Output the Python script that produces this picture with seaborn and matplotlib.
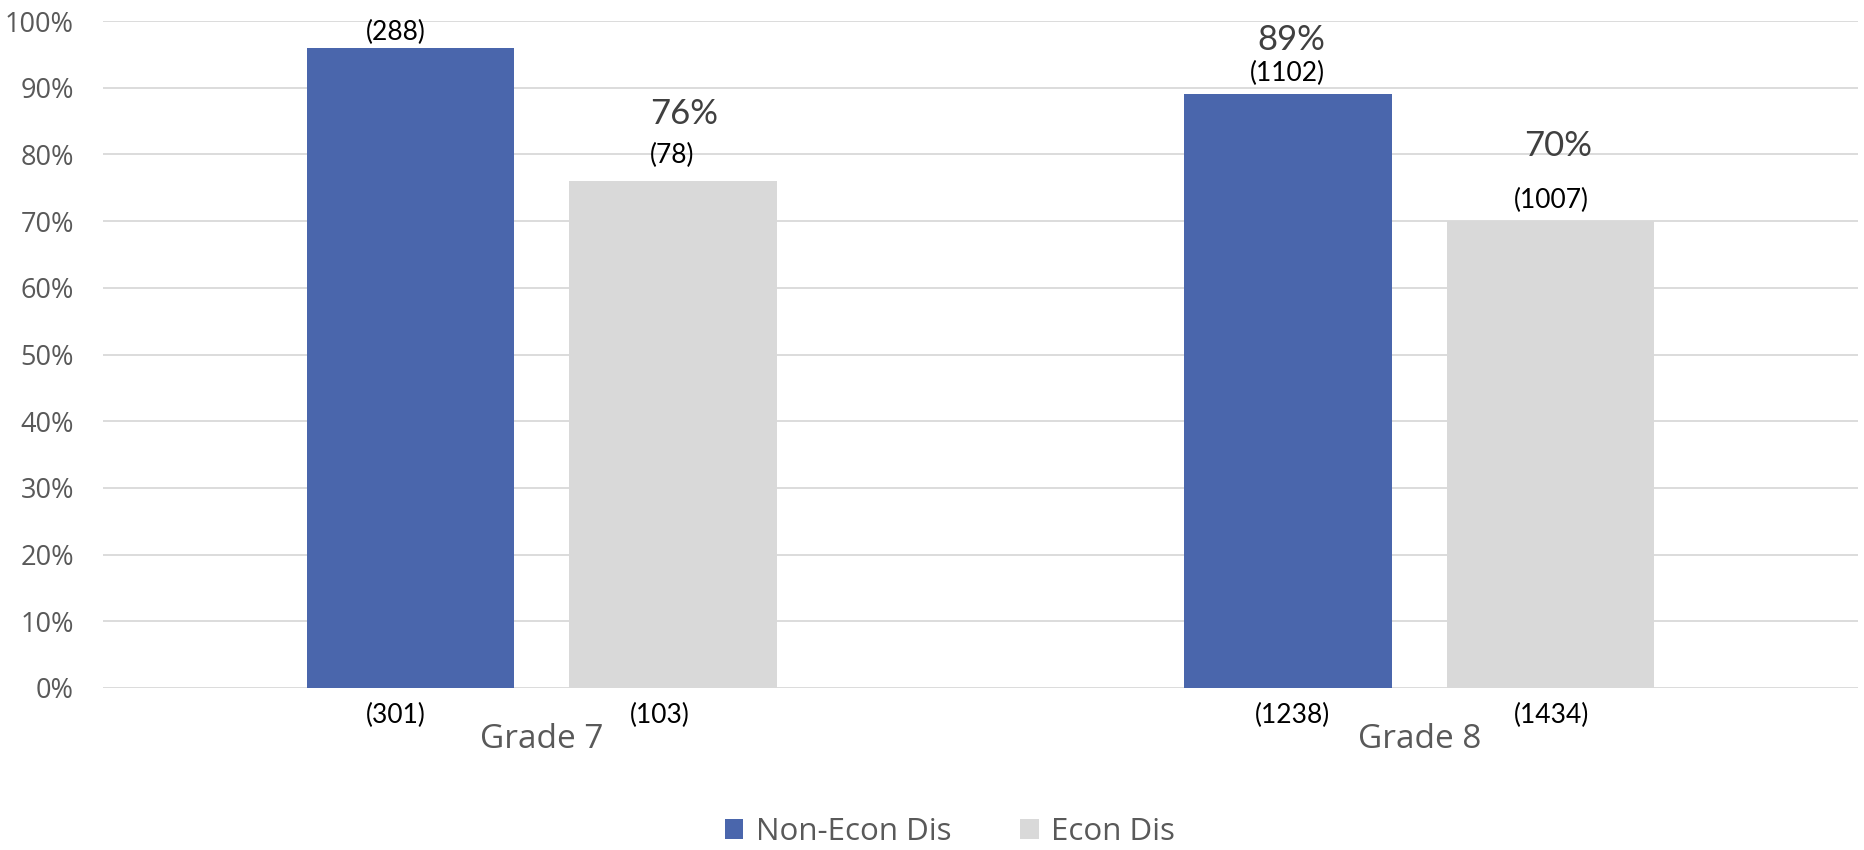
#!/usr/bin/env python3
"""
Grade 7 / Grade 8 bar chart: Non-Econ Dis vs Econ Dis, with counts shown above and below each bar.
"""

import numpy as np
import pandas as pd
import matplotlib
matplotlib.use("Agg")
import matplotlib.pyplot as plt
from matplotlib.ticker import PercentFormatter, MultipleLocator
import seaborn as sns

# data
grades = ["Grade 7", "Grade 8"]
groups = ["Non-Econ Dis", "Econ Dis"]
non_econ_pct = [0.96, 0.89]
econ_pct = [0.76, 0.70]

# labels printed above the bars
non_econ_top_counts = ["(288)", "(1102)"]
econ_top_counts = ["(78)", "(1007)"]
non_econ_pct_labels = [None, "89%"]          # the 96% label is not shown
econ_pct_labels = ["76%", "70%"]

# labels printed under the bars
non_econ_bottom_counts = ["(301)", "(1238)"]
econ_bottom_counts = ["(103)", "(1434)"]

BLUE = "#4A66AC"
GREY = "#D9D9D9"
TEXT_GREY = "#595959"


def build_frame():
    rows = []
    for i, g in enumerate(grades):
        rows.append({"grade": g, "group": groups[0], "pct": non_econ_pct[i]})
        rows.append({"grade": g, "group": groups[1], "pct": econ_pct[i]})
    return pd.DataFrame(rows)


def plot_chart(df, output_file):
    sns.set_style("white")
    plt.rcParams["font.family"] = ["Open Sans", "DejaVu Sans"]

    fig = plt.figure(figsize=(18.64, 8.5), dpi=100)
    ax = fig.add_axes([103 / 1864, 1 - 688 / 850, 1755 / 1864, 667 / 850])

    sns.barplot(data=df, x="grade", y="pct", hue="group", order=grades,
                hue_order=groups, palette=[BLUE, GREY], saturation=1,
                width=0.5986, gap=0.211, linewidth=0, errorbar=None, ax=ax)

    ax.set_xlim(-0.5, 1.5)
    ax.set_ylim(0, 1)
    ax.yaxis.set_major_locator(MultipleLocator(0.1))
    ax.yaxis.set_major_formatter(PercentFormatter(1.0, decimals=0))
    ax.set_axisbelow(True)
    ax.grid(axis="y", color="#D9D9D9", linewidth=1.3)
    ax.grid(axis="x", visible=False)
    for s in ax.spines.values():
        s.set_visible(False)
    ax.set_xlabel("")
    ax.set_ylabel("")
    ax.tick_params(axis="y", length=0, pad=21, labelsize=19.5, labelcolor=TEXT_GREY)
    ax.tick_params(axis="x", length=0, pad=25, labelsize=24, labelcolor=TEXT_GREY)

    # hand placed labels (pixel offsets from top/bottom centre of each bar)
    top_counts = [non_econ_top_counts, econ_top_counts]
    pct_labels = [non_econ_pct_labels, econ_pct_labels]
    bottom_counts = [non_econ_bottom_counts, econ_bottom_counts]
    count_offsets = [[(-15, 15), (0, 21)], [(-1, 26), (1, 21)]]
    pct_offsets = [[None, (3, 54)], [(11, 67), (8, 75)]]
    bottom_dx = [[-15, 5], [-13, 1]]

    for h, container in enumerate(ax.containers):
        for i, bar in enumerate(container):
            cx = bar.get_x() + bar.get_width() / 2
            top = bar.get_height()
            dx, dy = count_offsets[h][i]
            ax.annotate(top_counts[h][i], (cx, top), xytext=(dx, dy),
                        textcoords="offset pixels", ha="center", va="center",
                        fontsize=19, family=["Lato", "DejaVu Sans"], color="black")
            if pct_labels[h][i]:
                dx, dy = pct_offsets[h][i]
                ax.annotate(pct_labels[h][i], (cx, top), xytext=(dx, dy),
                            textcoords="offset pixels", ha="center", va="center",
                            fontsize=25, family=["Lato", "DejaVu Sans"], color="#404040")
            ax.annotate(bottom_counts[h][i], (cx, 0), xytext=(bottom_dx[h][i], -27),
                        textcoords="offset pixels", ha="center", va="center",
                        fontsize=19, family=["Lato", "DejaVu Sans"], color="black",
                        annotation_clip=False)

    handles, labels = ax.get_legend_handles_labels()
    ax.get_legend().remove()
    fig.legend(handles, labels, loc="center", bbox_to_anchor=(950 / 1864, 1 - 832 / 850),
               ncol=2, frameon=False, fontsize=22.5, labelcolor=TEXT_GREY,
               handlelength=0.6, handleheight=0.6, handletextpad=0.4, columnspacing=2.2)

    fig.savefig(output_file, dpi=100)
    plt.close(fig)


def main():
    df = build_frame()
    print(df)
    plot_chart(df, "out.png")


if __name__ == "__main__":
    main()
